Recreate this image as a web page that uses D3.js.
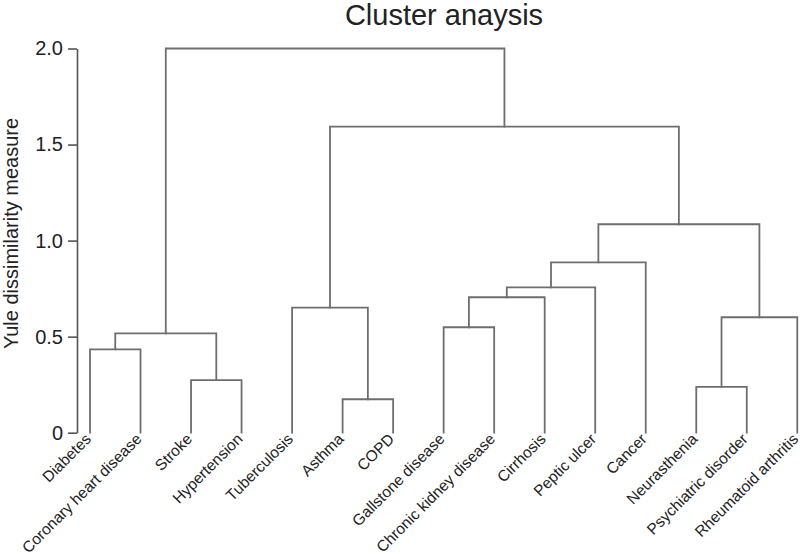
<!DOCTYPE html>
<html>
<head>
<meta charset="utf-8">
<script src="https://cdn.jsdelivr.net/npm/d3@7"></script>
<style>
  html, body { margin: 0; padding: 0; background: #fff; }
  svg { display: block; font-family: "Liberation Sans", Arial, sans-serif; }
</style>
</head>
<body>
<svg id="chart" width="800" height="559"></svg>
<script>
// Leaves in display order
const leaves = [
  "Diabetes", "Coronary heart disease", "Stroke", "Hypertension",
  "Tuberculosis", "Asthma", "COPD",
  "Gallstone disease", "Chronic kidney disease", "Cirrhosis", "Peptic ulcer", "Cancer",
  "Neurasthenia", "Psychiatric disorder", "Rheumatoid arthritis"
];
// Merge steps (hclust style): negative = leaf index (1-based), positive = earlier merge (1-based)
const mergeA = [-6, -13, -3, -1, 4, -8, 2, -5, 6, 9, 10, 11, 8, 5];
const mergeB = [-7, -14, -4, -2, 3, -9, -15, 1, -10, -11, -12, 7, 12, 13];
const mergeHeight = [0.174, 0.239, 0.274, 0.434, 0.517, 0.549, 0.601, 0.651, 0.705, 0.757, 0.887, 1.085, 1.593, 2.0];
const yTicks = [0, 0.5, 1.0, 1.5, 2.0];
const chartTitle = "Cluster anaysis";
const yTitle = "Yule dissimilarity measure";

const svg = d3.select("#chart");
const lineColor = "#6e6e6e";
const textColor = "#222";

const x = d3.scalePoint().domain(leaves).range([90, 797.3]);
const y = d3.scaleLinear().domain([0, 2]).range([432.7, 48.5]);

// compute node positions
const nodes = [];
function pos(ref) {
  if (ref < 0) return { x: x(leaves[-ref - 1]), y: y(0) };
  return nodes[ref - 1];
}
const g = svg.append("g");
mergeA.forEach((a, i) => {
  const pa = pos(a), pb = pos(mergeB[i]);
  const hy = y(mergeHeight[i]);
  nodes.push({ x: (pa.x + pb.x) / 2, y: hy });
  g.append("path")
    .attr("d", `M${pa.x},${pa.y}V${hy}H${pb.x}V${pb.y}`)
    .attr("fill", "none")
    .attr("stroke", lineColor)
    .attr("stroke-width", 1.8)
    .attr("stroke-linejoin", "miter")
    .attr("stroke-linecap", "square");
});

// y axis
const axis = svg.append("g")
  .attr("transform", "translate(77,0)")
  .call(d3.axisLeft(y).tickValues(yTicks).tickSize(9).tickPadding(5).tickSizeOuter(0)
    .tickFormat(d => d === 0 ? "0" : d3.format(".1f")(d)));
axis.select(".domain").attr("stroke", "#555").attr("stroke-width", 1.6);
axis.selectAll(".tick line").attr("stroke", "#555").attr("stroke-width", 1.6);
axis.selectAll(".tick text").attr("fill", textColor).style("font-size", "20px")
  .style("font-family", "'Liberation Sans', Arial, sans-serif");

// leaf labels
svg.append("g").selectAll("text").data(leaves).join("text")
  .attr("transform", d => `translate(${x(d) + 2},${440}) rotate(-45)`)
  .attr("text-anchor", "end")
  .attr("fill", textColor)
  .style("font-size", "15.5px")
  .text(d => d);

// title
svg.append("text")
  .attr("x", 444).attr("y", 25)
  .attr("text-anchor", "middle")
  .attr("fill", textColor)
  .style("font-size", "29px")
  .text(chartTitle);

// y title
svg.append("text")
  .attr("transform", `translate(18,233.5) rotate(-90)`)
  .attr("text-anchor", "middle")
  .attr("fill", textColor)
  .style("font-size", "20px")
  .text(yTitle);
</script>
</body>
</html>
